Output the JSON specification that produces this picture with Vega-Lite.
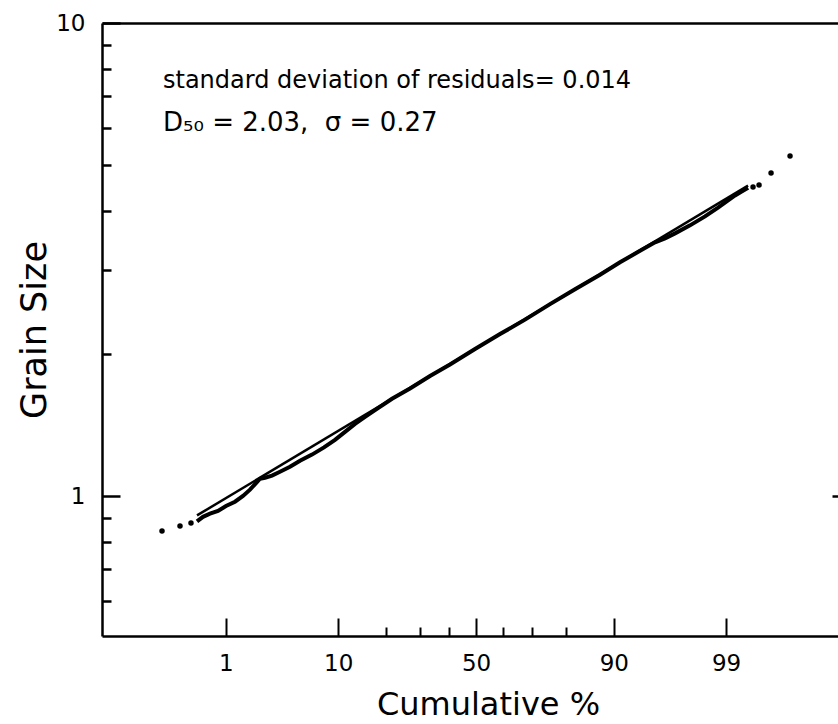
{
  "$schema": "https://vega.github.io/schema/vega-lite/v6.json",
  "width": 736,
  "height": 613,
  "autosize": {"type": "none"},
  "padding": {"left": 102, "top": 23, "right": 0, "bottom": 88},
  "background": "white",
  "config": {
    "view": {"stroke": null},
    "font": "DejaVu Sans",
    "axis": {"grid": false, "labelColor": "black", "titleColor": "black", "tickColor": "black", "domainColor": "black", "titleFontWeight": "normal", "labelFontWeight": "normal"}
  },
  "datasets": {
    "fit": [
      {"normal_score": -2.5953, "grain_size": 0.9100},
      {"normal_score": 2.5302, "grain_size": 4.5302}
    ],
    "observed_band": [
      {"normal_score": -2.5953, "grain_size": 0.8838},
      {"normal_score": -2.5395, "grain_size": 0.9038},
      {"normal_score": -2.4744, "grain_size": 0.9179},
      {"normal_score": -2.4000, "grain_size": 0.9304},
      {"normal_score": -2.3256, "grain_size": 0.9524},
      {"normal_score": -2.2419, "grain_size": 0.9729},
      {"normal_score": -2.1674, "grain_size": 1.0007},
      {"normal_score": -2.1023, "grain_size": 1.0314},
      {"normal_score": -2.0465, "grain_size": 1.0650},
      {"normal_score": -2.0093, "grain_size": 1.0880},
      {"normal_score": -1.9628, "grain_size": 1.0932},
      {"normal_score": -1.8977, "grain_size": 1.1049},
      {"normal_score": -1.8233, "grain_size": 1.1255},
      {"normal_score": -1.7302, "grain_size": 1.1532},
      {"normal_score": -1.6372, "grain_size": 1.1872},
      {"normal_score": -1.5256, "grain_size": 1.2235},
      {"normal_score": -1.4140, "grain_size": 1.2670},
      {"normal_score": -1.3116, "grain_size": 1.3147},
      {"normal_score": -1.2186, "grain_size": 1.3668},
      {"normal_score": -1.1256, "grain_size": 1.4209},
      {"normal_score": -1.0326, "grain_size": 1.4701},
      {"normal_score": -0.9116, "grain_size": 1.5343},
      {"normal_score": -0.7814, "grain_size": 1.6060},
      {"normal_score": -0.6140, "grain_size": 1.6883},
      {"normal_score": -0.4279, "grain_size": 1.7939},
      {"normal_score": -0.2419, "grain_size": 1.8970},
      {"normal_score": -0.0093, "grain_size": 2.0452},
      {"normal_score": 0.2233, "grain_size": 2.1998},
      {"normal_score": 0.4558, "grain_size": 2.3601},
      {"normal_score": 0.6884, "grain_size": 2.5446},
      {"normal_score": 0.9209, "grain_size": 2.7369},
      {"normal_score": 1.1535, "grain_size": 2.9364},
      {"normal_score": 1.3395, "grain_size": 3.1201},
      {"normal_score": 1.5256, "grain_size": 3.2993},
      {"normal_score": 1.6651, "grain_size": 3.4384},
      {"normal_score": 1.7581, "grain_size": 3.5056},
      {"normal_score": 1.8512, "grain_size": 3.5917},
      {"normal_score": 1.9907, "grain_size": 3.7340},
      {"normal_score": 2.1302, "grain_size": 3.9007},
      {"normal_score": 2.2512, "grain_size": 4.0710},
      {"normal_score": 2.3349, "grain_size": 4.1996},
      {"normal_score": 2.4093, "grain_size": 4.3195},
      {"normal_score": 2.4744, "grain_size": 4.4085},
      {"normal_score": 2.5302, "grain_size": 4.4862}
    ],
    "observed_tails": [
      {"normal_score": -2.9209, "grain_size": 0.8433},
      {"normal_score": -2.7535, "grain_size": 0.8641},
      {"normal_score": -2.6512, "grain_size": 0.8768},
      {"normal_score": 2.5767, "grain_size": 4.5013},
      {"normal_score": 2.6326, "grain_size": 4.5432},
      {"normal_score": 2.7442, "grain_size": 4.8183},
      {"normal_score": 2.9209, "grain_size": 5.2330}
    ],
    "note_residuals": [
      {"label": "standard deviation of residuals= 0.014", "normal_score": -2.9116, "grain_size": 7.289}
    ],
    "note_params": [
      {"label": "D₅₀ = 2.03,\u00a0 σ = 0.27", "normal_score": -2.9116, "grain_size": 5.911}
    ]
  },
  "layer": [
    {
      "data": {"name": "fit"},
      "mark": {"type": "line", "color": "black", "strokeWidth": 2.5},
      "encoding": {
        "x": {
          "field": "normal_score", "type": "quantitative",
          "scale": {"domain": [-3.479, 3.367], "nice": false, "zero": false},
          "axis": {
            "orient": "bottom",
            "values": [-2.3263, -1.2816, -0.8416, -0.5244, -0.2533, 0, 0.2533, 0.5244, 0.8416, 1.2816, 2.3263],
            "labelExpr": "datum.value < -2 ? '1' : datum.value < -1 ? '10' : datum.value == 0 ? '50' : datum.value > 2 ? '99' : datum.value > 1 ? '90' : ''",
            "tickSize": {"condition": {"test": "abs(datum.value) > 1 || datum.value == 0", "value": -18}, "value": -9},
            "tickWidth": 2,
            "domainWidth": 2.5,
            "labelFontSize": 23,
            "labelPadding": 34,
            "labelFlush": false,
            "labelOverlap": false,
            "title": "Cumulative %",
            "titleFontSize": 32,
            "titlePadding": 5,
            "titleX": 386
          }
        },
        "y": {
          "field": "grain_size", "type": "quantitative",
          "scale": {"type": "log", "domain": [0.506, 10], "nice": false},
          "axis": {
            "orient": "left",
            "values": [0.6, 0.7, 0.8, 0.9, 1, 2, 3, 4, 5, 6, 7, 8, 9, 10],
            "labelExpr": "datum.value == 1 ? '1' : datum.value == 10 ? '10' : ''",
            "tickSize": {"condition": {"test": "datum.value == 1 || datum.value == 10", "value": -18}, "value": -9},
            "tickWidth": 2.5,
            "domainWidth": 2.5,
            "labelFontSize": 23,
            "labelPadding": 35,
            "labelOverlap": false,
            "labelFlush": false,
            "title": "Grain Size",
            "titleFontSize": 35,
            "titlePadding": 3
          }
        }
      }
    },
    {
      "data": {"name": "observed_band"},
      "mark": {"type": "line", "color": "black", "strokeWidth": 4},
      "encoding": {
        "x": {
          "field": "normal_score", "type": "quantitative",
          "scale": {"domain": [-3.479, 3.367], "nice": false, "zero": false},
          "axis": {"orient": "top", "ticks": false, "labels": false, "domain": true, "domainWidth": 2.5, "title": null}
        },
        "y": {
          "field": "grain_size", "type": "quantitative",
          "scale": {"type": "log", "domain": [0.506, 10], "nice": false},
          "axis": {"orient": "right", "values": [1], "labels": false, "domain": false, "tickSize": -6, "tickWidth": 2.5, "title": null}
        }
      }
    },
    {
      "data": {"name": "observed_tails"},
      "mark": {"type": "point", "filled": true, "color": "black", "opacity": 1, "size": 30},
      "encoding": {
        "x": {"field": "normal_score", "type": "quantitative", "scale": {"domain": [-3.479, 3.367], "nice": false, "zero": false}, "axis": null},
        "y": {"field": "grain_size", "type": "quantitative", "scale": {"type": "log", "domain": [0.506, 10], "nice": false}, "axis": null}
      }
    },
    {
      "data": {"name": "note_residuals"},
      "mark": {"type": "text", "align": "left", "baseline": "alphabetic", "fontSize": 24, "color": "black"},
      "encoding": {
        "x": {"field": "normal_score", "type": "quantitative", "scale": {"domain": [-3.479, 3.367], "nice": false, "zero": false}, "axis": null},
        "y": {"field": "grain_size", "type": "quantitative", "scale": {"type": "log", "domain": [0.506, 10], "nice": false}, "axis": null},
        "text": {"field": "label"}
      }
    },
    {
      "data": {"name": "note_params"},
      "mark": {"type": "text", "align": "left", "baseline": "alphabetic", "fontSize": 26, "color": "black"},
      "encoding": {
        "x": {"field": "normal_score", "type": "quantitative", "scale": {"domain": [-3.479, 3.367], "nice": false, "zero": false}, "axis": null},
        "y": {"field": "grain_size", "type": "quantitative", "scale": {"type": "log", "domain": [0.506, 10], "nice": false}, "axis": null},
        "text": {"field": "label"}
      }
    }
  ],
  "resolve": {"axis": {"x": "independent", "y": "independent"}}
}
